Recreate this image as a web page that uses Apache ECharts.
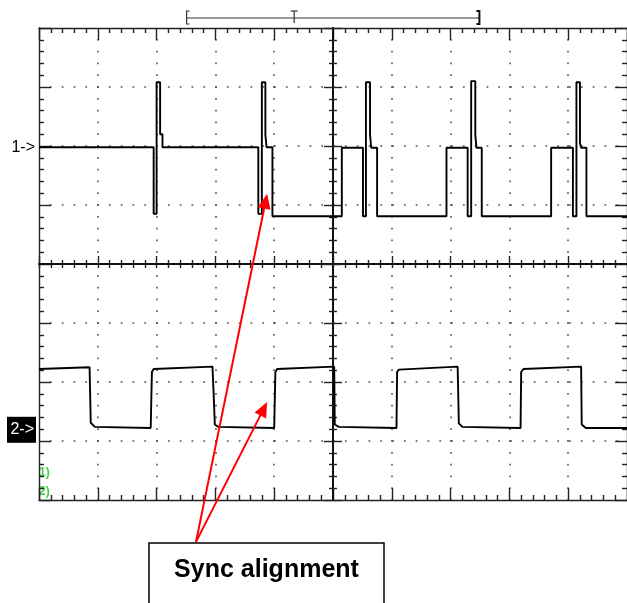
<!DOCTYPE html>
<html><head><meta charset="utf-8">
<script src="https://cdn.jsdelivr.net/npm/echarts@6/dist/echarts.min.js"></script>
<style>html,body{margin:0;padding:0;background:#fff}#c{width:627px;height:603px}</style>
</head><body><div id="c"></div>
<script>
// Screen: 10 x 8 divisions, centred at 0
const xRange = [-5, 5];
const yRange = [-4, 4];

// Channel 1 trace (time in divisions, level in divisions)
const ch1Time  = [-5.00,-3.05,-3.05,-3.00,-3.00,-2.94,-2.94,-2.90,-2.90,
                  -1.27,-1.27,-1.21,-1.21,-1.15,-1.15,-1.13,-1.03,-1.03,
                  0.15,0.15,0.51,0.51,0.56,0.56,0.63,0.63,0.65,0.75,0.75,
                  1.93,1.93,2.29,2.29,2.35,2.35,2.42,2.42,2.44,2.53,2.53,
                  3.71,3.71,4.08,4.08,4.14,4.14,4.20,4.20,4.22,4.31,4.31,5.00];
const ch1Level = [1.98,1.98,0.85,0.85,3.08,3.08,2.20,2.20,1.98,
                  1.98,0.85,0.85,3.08,3.08,2.19,1.98,1.98,0.81,
                  0.81,1.97,1.97,0.81,0.81,3.08,3.08,2.19,1.97,1.97,0.81,
                  0.81,1.97,1.97,0.81,0.81,3.10,3.10,2.19,1.97,1.97,0.81,
                  0.81,1.97,1.97,0.81,0.81,3.08,3.08,2.05,1.97,1.97,0.81,0.81];

// Channel 2 trace
const ch2Time  = [-5.00,-4.14,-4.12,-4.05,-3.10,-3.08,-3.05,-2.05,-2.03,-2.01,-1.95,-1.00,-0.98,-0.95,0.02,0.03,0.10,
                  1.08,1.09,1.12,2.12,2.14,2.20,3.19,3.20,3.24,4.22,4.23,4.30,5.00];
const ch2Level = [-1.78,-1.75,-2.69,-2.76,-2.78,-1.83,-1.78,-1.74,-2.20,-2.72,-2.76,-2.78,-1.83,-1.78,-1.74,-2.72,-2.76,
                  -2.78,-1.83,-1.79,-1.74,-2.70,-2.76,-2.78,-1.83,-1.78,-1.74,-2.72,-2.78,-2.78];

// Channel ground markers and annotations (divisions)
const markerLevels = [1.98, -2.81];
const markerTexts = ['1->', '2->'];
const windowBracket = [-2.49, 2.49];
const triggerPos = -0.66;
const arrowTips = [[-1.12, 1.19], [-1.12, -2.34]];
const arrowTail = [-2.33, -4.71];
const calloutText = 'Sync alignment';
const channelTags = ['1)', '2)'];

const chart = echarts.init(document.getElementById('c'), null, {renderer: 'canvas'});
const pairs = (t, v) => t.map((x, i) => [x, v[i]]);

const frameStyle = {color: '#222', width: 1.4};
const centerStyle = {color: '#111', width: 2};
const dotStyle = {color: '#555', width: 1.6, type: [1.8, 10.0], dashOffset: 0.9};

function axis(kind, pos, opts) {
  return {
    type: 'value', min: kind === 'x' ? xRange[0] : yRange[0], max: kind === 'x' ? xRange[1] : yRange[1], interval: 1,
    position: pos,
    axisLine: {show: true, onZero: opts.onZero, lineStyle: opts.center ? centerStyle : frameStyle},
    axisTick: {show: true, inside: opts.inside, length: opts.tick, lineStyle: {color: '#222', width: 1.4}},
    minorTick: {show: true, splitNumber: 5, length: opts.minor, lineStyle: {color: '#222', width: 1.4}},
    axisLabel: {show: false},
    splitLine: {show: !!opts.split, showMinLine: false, showMaxLine: false, lineStyle: dotStyle},
    z: opts.center ? 4 : 3
  };
}

const option = {
  animation: false,
  backgroundColor: '#fff',
  grid: {left: 39, top: 28, width: 590, height: 472, show: false},
  xAxis: [
    axis('x', 'bottom', {onZero: false, inside: true, tick: 12, minor: 5, split: true}),
    axis('x', 'top', {onZero: false, inside: true, tick: 12, minor: 5}),
    axis('x', 'bottom', {onZero: true, inside: true, tick: 8, minor: 4, center: true}),
    axis('x', 'bottom', {onZero: true, inside: false, tick: 4, minor: 4, center: true})
  ],
  yAxis: [
    axis('y', 'left', {onZero: false, inside: true, tick: 12, minor: 5, split: true}),
    axis('y', 'right', {onZero: false, inside: true, tick: 12, minor: 5}),
    axis('y', 'left', {onZero: true, inside: true, tick: 9, minor: 4, center: true}),
    axis('y', 'left', {onZero: true, inside: false, tick: 9, minor: 4, center: true})
  ],
  series: [
    {type: 'line', name: 'CH1', xAxisIndex: 0, yAxisIndex: 0, data: pairs(ch1Time, ch1Level),
     showSymbol: false, symbol: 'none', lineStyle: {color: '#000', width: 1.9}, z: 10},
    {type: 'line', name: 'CH2', xAxisIndex: 0, yAxisIndex: 0, data: pairs(ch2Time, ch2Level),
     showSymbol: false, symbol: 'none', lineStyle: {color: '#000', width: 1.9}, z: 10}
  ]
};
chart.setOption(option);

const P = (x, y) => chart.convertToPixel({xAxisIndex: 0, yAxisIndex: 0}, [x, y]);
const g = [];

// top time-window bracket
const bY = 18, bTop = 11, bBot = 24;
const bl = P(windowBracket[0], 0)[0], br = P(windowBracket[1], 0)[0], bt = P(triggerPos, 0)[0];
const bs = {stroke: '#333', lineWidth: 1.2};
g.push({type: 'line', shape: {x1: bl, y1: bY, x2: br, y2: bY}, style: bs});
g.push({type: 'polyline', shape: {points: [[bl + 3, bTop], [bl, bTop], [bl, bBot], [bl + 3, bBot]]}, style: Object.assign({fill: null}, bs)});
g.push({type: 'polyline', shape: {points: [[br - 3, bTop], [br, bTop], [br, bBot], [br - 3, bBot]]}, style: {stroke: '#111', lineWidth: 2, fill: null}});
g.push({type: 'line', shape: {x1: bt - 3.5, y1: bTop, x2: bt + 3.5, y2: bTop}, style: bs});
g.push({type: 'line', shape: {x1: bt, y1: bTop, x2: bt, y2: bBot - 1}, style: bs});

// channel markers
const m1 = P(xRange[0], markerLevels[0]);
g.push({type: 'text', x: 35, y: m1[1], style: {text: markerTexts[0], font: '16px "Liberation Sans", Arial, sans-serif', fill: '#000', align: 'right', verticalAlign: 'middle'}});
const m2 = P(xRange[0], markerLevels[1]);
g.push({type: 'rect', shape: {x: 7, y: m2[1] - 13, width: 29, height: 26}, style: {fill: '#000'}});
g.push({type: 'text', x: 34, y: m2[1], style: {text: markerTexts[1], font: '16px "Liberation Sans", Arial, sans-serif', fill: '#fff', align: 'right', verticalAlign: 'middle'}});

// green channel tags
g.push({type: 'text', x: 39, y: 473, style: {text: channelTags[0], font: 'bold 12px "Liberation Sans", Arial, sans-serif', fill: '#3fd23f', align: 'left', verticalAlign: 'middle'}});
g.push({type: 'text', x: 39, y: 492, style: {text: channelTags[1], font: 'bold 12px "Liberation Sans", Arial, sans-serif', fill: '#3fd23f', align: 'left', verticalAlign: 'middle'}});

// red arrows
const tail = P(arrowTail[0], arrowTail[1]);
arrowTips.forEach(t => {
  const tip = P(t[0], t[1]);
  const dx = tip[0] - tail[0], dy = tip[1] - tail[1], L = Math.hypot(dx, dy), ux = dx / L, uy = dy / L;
  const hl = 15, hw = 6.5;
  const bx = tip[0] - ux * hl, by = tip[1] - uy * hl;
  g.push({type: 'line', z: 20, shape: {x1: tail[0], y1: tail[1], x2: bx + ux * 2, y2: by + uy * 2}, style: {stroke: '#ff0000', lineWidth: 2}});
  g.push({type: 'polygon', z: 20, shape: {points: [tip, [bx - uy * hw, by + ux * hw], [bx + uy * hw, by - ux * hw]]}, style: {fill: '#ff0000'}});
});

// callout box
g.push({type: 'rect', z: 21, shape: {x: 149, y: 543, width: 235, height: 80}, style: {fill: '#fff', stroke: '#000', lineWidth: 1.5}});
g.push({type: 'text', z: 22, x: 266.5, y: 570, style: {text: calloutText, font: 'bold 25px "Liberation Sans", Arial, sans-serif', fill: '#000', align: 'center', verticalAlign: 'middle'}});

chart.setOption({graphic: {elements: g}});
</script>
</body></html>
